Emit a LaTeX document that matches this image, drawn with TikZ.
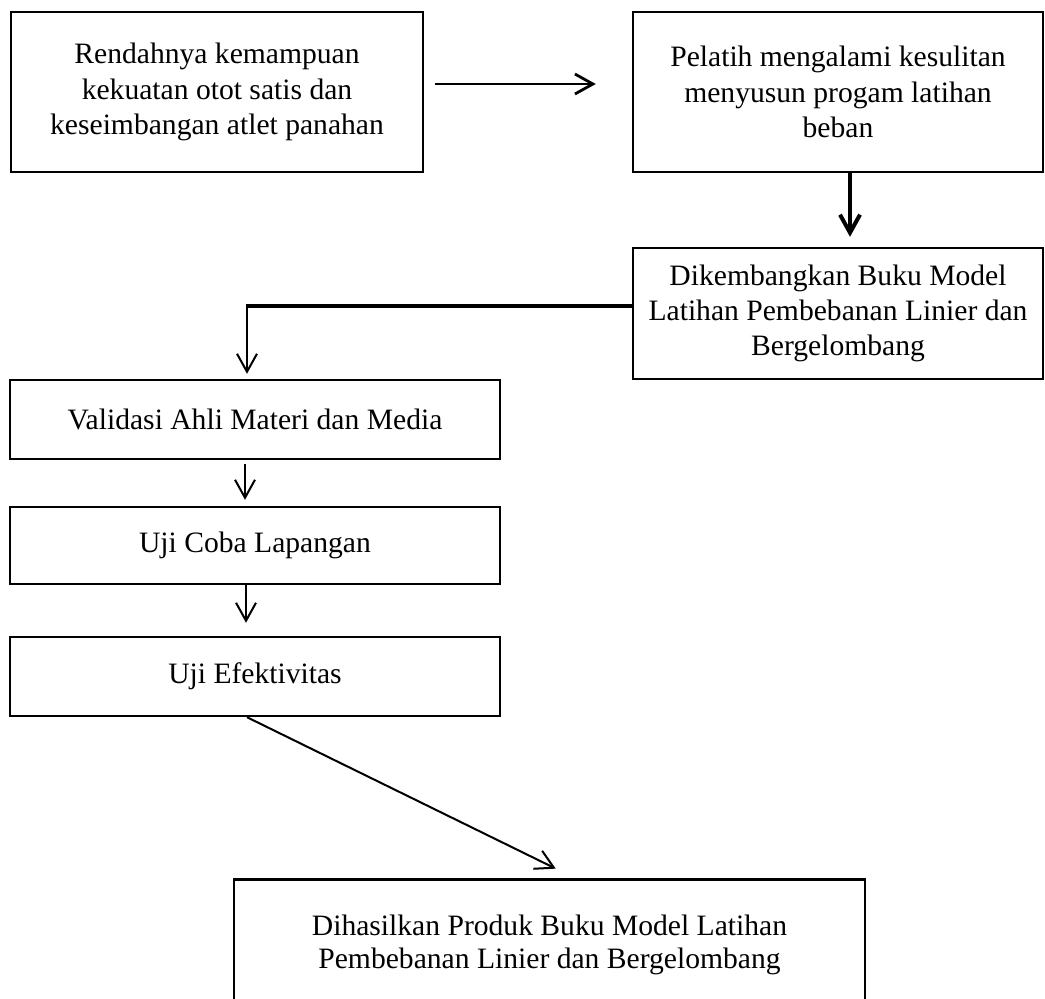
\documentclass[tikz,border=0pt]{standalone}
\usepackage{fontspec}
\setmainfont{Liberation Serif}
\usetikzlibrary{arrows.meta}
\tikzset{
  kotak/.style={draw, line width=1.2pt, align=center, inner sep=0pt, font=\fontsize{14.8}{17.6}\selectfont},
}
\begin{document}
\begin{tikzpicture}[x=0.5pt, y=-0.5pt, >={Straight Barb[length=9pt,width=10pt]}, line width=1pt]
  \useasboundingbox (0,0) rectangle (1045,998);
  \clip (0,0) rectangle (1045,998);
  \node[kotak, minimum width=206pt, minimum height=80pt] (rendah) at (217,92) {Rendahnya kemampuan\\kekuatan otot satis dan\\keseimbangan atlet panahan};
  \node[kotak, minimum width=205pt, minimum height=80pt] (pelatih) at (838,92) {Pelatih mengalami kesulitan\\menyusun progam latihan\\beban};
  \node[kotak, minimum width=205pt, minimum height=65.5pt] (kembang) at (838,313.5) {Dikembangkan Buku Model\\Latihan Pembebanan Linier dan\\Bergelombang};
  \node[kotak, minimum width=245pt, minimum height=39.5pt] (validasi) at (255,419.5) {Validasi Ahli Materi dan Media};
  \node[kotak, minimum width=245pt, minimum height=38.5pt] (ujicoba) at (255,545.5) {Uji Coba Lapangan};
  \node[kotak, minimum width=245pt, minimum height=39.5pt] (efektif) at (255,676.5) {Uji Efektivitas};
  \node[kotak, minimum width=315.5pt, minimum height=65.5pt, font=\fontsize{14.8}{16.5}\selectfont] (produk) at (549.5,945) {Dihasilkan Produk Buku Model Latihan\\Pembebanan Linier dan Bergelombang};
  % panah antar kotak
  \draw[->, line width=1.4pt, shorten <=5.5pt, shorten >=18pt] ([yshift=4pt]rendah.east) -- ([yshift=4pt]pelatih.west);
  \draw[->, line width=2pt, shorten >=5pt] ([xshift=6pt]pelatih.south) -- ([xshift=6pt]kembang.north);
  \coordinate (siku) at (247,306);
  \draw[line width=2pt] (kembang.west |- siku) -- ([xshift=-0.5pt]siku);
  \draw[->, shorten >=2.5pt] (siku) -- (siku |- validasi.north);
  \draw[->, shorten <=2pt, shorten >=3pt] ([xshift=-5pt]validasi.south) -- ([xshift=-5pt]ujicoba.north);
  \draw[->, shorten >=6.5pt] ([xshift=-4.5pt]ujicoba.south) -- ([xshift=-4.5pt]efektif.north);
  \draw[->, shorten >=11pt] ([xshift=-4pt]efektif.south) -- ([xshift=13pt]produk.north);
\end{tikzpicture}
\end{document}
